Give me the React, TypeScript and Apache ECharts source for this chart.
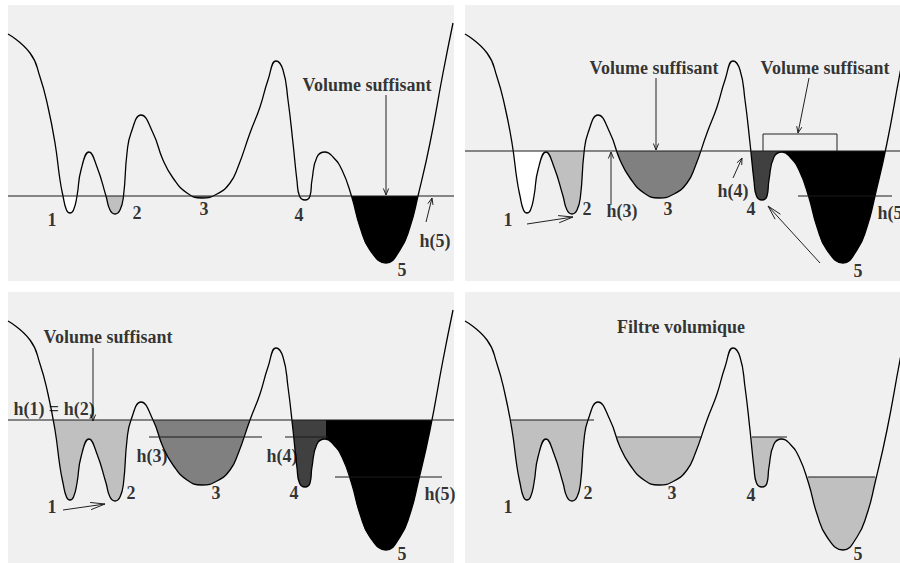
import React, { useEffect, useRef } from 'react';
import * as echarts from 'echarts';

// Terrain profile (same in all four panels): x position and elevation
const curveX = [0, 22, 32, 40, 47, 52, 55, 58.5, 62, 65.5, 69, 73, 81, 89, 98, 102, 107, 112, 115.5, 119, 123, 133, 145, 155, 165, 179, 194, 209, 222, 230, 242, 252, 260, 268, 275, 280, 285, 289, 291.5, 297, 302, 304, 309, 317, 325, 334, 343.5, 352, 362, 378, 392, 402, 410, 422, 435, 445];
const curveE = [247, 228, 204, 174, 138, 101, 85, 71, 68, 71, 85, 111, 129, 114, 85, 71, 67, 71, 85, 128, 148, 166, 148, 121, 103, 88, 83, 87, 98, 114, 148, 174, 201, 220, 211, 181, 138, 100, 85, 81, 85, 101, 124, 129, 124, 111, 85, 54, 31, 18, 31, 54, 85, 138, 208, 258];

// Water bodies per panel: [xFrom, xTo, level]
const waterTL = [[22, 81, 85], [81, 133, 85], [133, 268, 85], [317, 445, 85]];
const waterTR = [[22, 81, 130], [81, 133, 130], [133, 268, 130], [268, 317, 130], [317, 445, 130]];
const waterBL = [[22, 133, 148], [133, 268, 148], [268, 318, 148], [318, 445, 148]];
const waterBR = [[22, 133, 148], [133, 268, 131], [268, 317, 131], [317, 445, 91]];
const waterColorsTL = ['#ffffff', '#c0c0c0', '#808080', '#000000'];
const waterColorsTR = ['#ffffff', '#c0c0c0', '#808080', '#404040', '#000000'];
const waterColorsBL = ['#c0c0c0', '#808080', '#404040', '#000000'];
const waterColorsBR = ['#c0c0c0', '#c0c0c0', '#c0c0c0', '#c0c0c0'];

// Level lines per panel: [xFrom, xTo, level]
const levelsTL = [[0, 446, 85]];
const levelsTR = [[0, 435, 130], [333, 427, 85]];
const levelsBL = [[0, 446, 148], [141, 254, 131], [277, 320, 131], [327, 434, 91]];
const levelsBR = [[45, 129, 148], [152, 237, 131], [287, 322, 131], [343, 410, 91]];

// Box over basin 5 (top right)
const boxTR = [[298, 130], [298, 147], [372, 147], [372, 130]];

// Arrows per panel: [tailX, tailE, tipX, tipE, kind] kind 0 = small head, 1 = long head
const arrowsTL = [[378, 186, 378, 86, 0], [418, 59, 424, 83, 0]];
const arrowsTR = [[191, 203, 191, 131, 0], [344, 203, 333, 148, 0], [146, 76, 146, 129, 0], [268, 103, 277, 123, 0], [62, 57, 108, 64, 1], [355, 18, 303, 75, 1]];
const arrowsBL = [[85, 220, 85, 147, 0], [55, 58, 97, 64, 1]];
const arrowsBR: number[][] = [];

// Text labels per panel: [x, e, text]
const textTL: [number, number, string][] = [[359, 196, 'Volume suffisant'], [44, 61, '1'], [129, 68, '2'], [196, 72, '3'], [291, 66, '4'], [394, 11, '5'], [427, 40, 'h(5)']];
const textTR: [number, number, string][] = [[189, 213, 'Volume suffisant'], [360, 213, 'Volume suffisant'], [43, 61, '1'], [122, 72, '2'], [157, 70, 'h(3)'], [203, 72, '3'], [268, 90, 'h(4)'], [286, 72, '4'], [393, 10, '5'], [428, 68, 'h(5)']];
const textBL: [number, number, string][] = [[100, 231, 'Volume suffisant'], [46, 159, 'h(1) = h(2)'], [44, 61, '1'], [123, 75, '2'], [144, 112, 'h(3)'], [208, 75, '3'], [274, 112, 'h(4)'], [286, 75, '4'], [432, 74, 'h(5)'], [394, 14, '5']];
const textBR: [number, number, string][] = [[216, 241, 'Filtre volumique'], [43, 61, '1'], [123, 75, '2'], [207, 75, '3'], [286, 73, '4'], [393, 14, '5']];

const BG = '#f0f0f0';
const FONT = '"Liberation Serif", "Times New Roman", serif';

const panels = [
  { grid: { left: 8, top: 5, width: 446, height: 276 }, xMax: 446, eMin: 0, eMax: 276, water: waterTL, colors: waterColorsTL, levels: levelsTL, arrows: arrowsTL, text: textTL, box: null as number[][] | null },
  { grid: { left: 465, top: 5, width: 435, height: 276 }, xMax: 435, eMin: 0, eMax: 276, water: waterTR, colors: waterColorsTR, levels: levelsTR, arrows: arrowsTR, text: textTR, box: boxTR },
  { grid: { left: 8, top: 292, width: 446, height: 271 }, xMax: 446, eMin: 5, eMax: 276, water: waterBL, colors: waterColorsBL, levels: levelsBL, arrows: arrowsBL, text: textBL, box: null },
  { grid: { left: 465, top: 292, width: 435, height: 271 }, xMax: 435, eMin: 5, eMax: 276, water: waterBR, colors: waterColorsBR, levels: levelsBR, arrows: arrowsBR, text: textBR, box: null },
];

function arrowPolylines(a: number[]) {
  const [tx, te, hx, he, kind] = a;
  const L = kind === 1 ? 15 : 7;
  const ang = (kind === 1 ? 14 : 22) * Math.PI / 180;
  let dx = tx - hx;
  let dy = te - he;
  const n = Math.hypot(dx, dy) || 1;
  dx /= n; dy /= n;
  const rot = (s: number) => [
    hx + L * (dx * Math.cos(s) - dy * Math.sin(s)),
    he + L * (dx * Math.sin(s) + dy * Math.cos(s)),
  ];
  return [
    { coords: [[tx, te], [hx, he]] },
    { coords: [rot(ang), [hx, he], rot(-ang)] },
  ];
}

export default function App() {
  const ref = useRef<HTMLDivElement>(null);
  useEffect(() => {
    if (!ref.current) return;
    const chart = echarts.init(ref.current, undefined, { renderer: 'svg' });
    const grids: any[] = [];
    const xAxes: any[] = [];
    const yAxes: any[] = [];
    const series: any[] = [];
    const curveData = curveX.map((x, k) => [x, curveE[k]]);

    panels.forEach((p, i) => {
      grids.push({ ...p.grid, show: true, backgroundColor: BG, borderWidth: 0, containLabel: false });
      xAxes.push({ type: 'value', gridIndex: i, min: 0, max: p.xMax, show: false });
      yAxes.push({ type: 'value', gridIndex: i, min: p.eMin, max: p.eMax, show: false });

      p.water.forEach((w, k) => {
        series.push({
          type: 'line', xAxisIndex: i, yAxisIndex: i, z: 1, silent: true,
          data: [[w[0], w[2]], [w[1], w[2]]],
          showSymbol: false, symbol: 'none',
          lineStyle: { width: 0, opacity: 0 },
          areaStyle: { color: p.colors[k], opacity: 1, origin: 'start' },
        });
      });

      series.push({
        type: 'line', xAxisIndex: i, yAxisIndex: i, z: 2, silent: true,
        data: curveData, smooth: 0.5, showSymbol: false, symbol: 'none',
        lineStyle: { color: '#000', width: 1.3 },
        areaStyle: { color: BG, opacity: 1, origin: 'start' },
      });

      p.levels.forEach((l) => {
        series.push({
          type: 'line', xAxisIndex: i, yAxisIndex: i, z: 3, silent: true,
          data: [[l[0], l[2]], [l[1], l[2]]], showSymbol: false, symbol: 'none',
          lineStyle: { color: '#1a1a1a', width: 1.2 },
        });
      });

      const lineData: any[] = [];
      p.arrows.forEach((a) => lineData.push(...arrowPolylines(a)));
      if (p.box) lineData.push({ coords: p.box });
      if (lineData.length) {
        series.push({
          type: 'lines', coordinateSystem: 'cartesian2d', xAxisIndex: i, yAxisIndex: i, z: 4,
          polyline: true, silent: true, data: lineData,
          lineStyle: { color: '#222', width: 1, opacity: 1 },
        });
      }

      series.push({
        type: 'scatter', xAxisIndex: i, yAxisIndex: i, z: 5, silent: true,
        symbolSize: 1, itemStyle: { color: 'rgba(0,0,0,0)' },
        data: p.text.map((t) => ({ value: [t[0], t[1]], name: t[2] })),
        label: {
          show: true, position: 'inside', formatter: (q: any) => q.name,
          fontFamily: FONT, fontWeight: 'bold', fontSize: 18, lineHeight: 14, color: '#000',
        },
      });
    });

    chart.setOption({
      animation: false,
      backgroundColor: '#ffffff',
      grid: grids,
      xAxis: xAxes,
      yAxis: yAxes,
      series,
    });
    return () => chart.dispose();
  }, []);
  return <div ref={ref} style={{ position: 'fixed', left: 0, top: 0, width: 900, height: 563 }} />;
}
